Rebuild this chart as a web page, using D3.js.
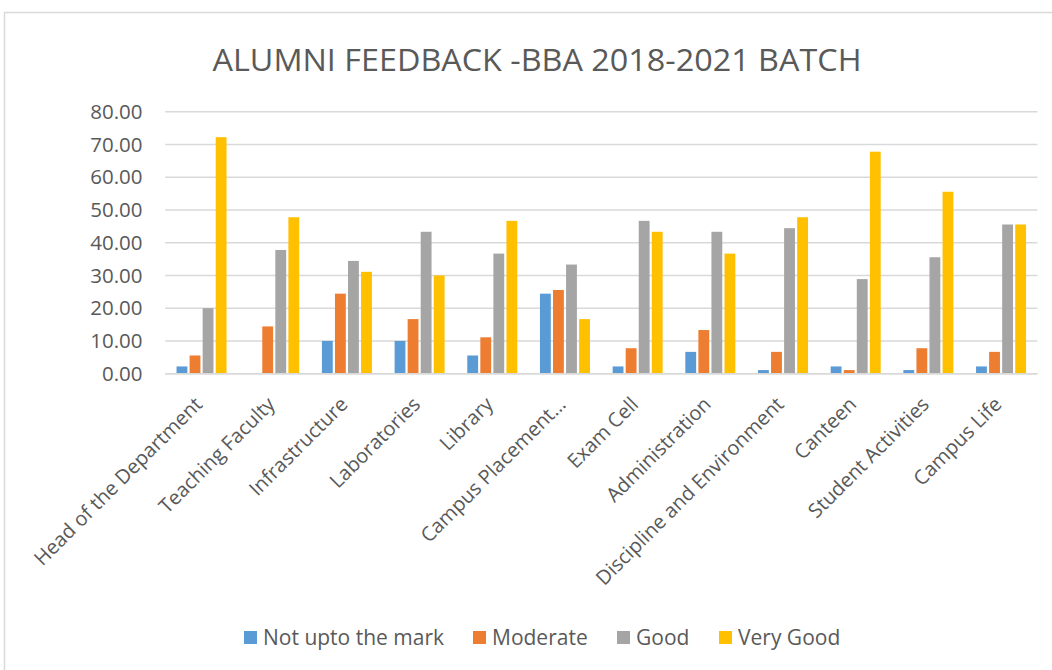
<!DOCTYPE html>
<html><head><meta charset="utf-8">
<script src="https://cdn.jsdelivr.net/npm/d3@7"></script>
<style>body{margin:0;background:#fff}svg{display:block}</style>
</head><body>
<svg id="c" width="1052" height="670"></svg>
<script>
const categories = ["Head of the Department","Teaching Faculty","Infrastructure","Laboratories","Library","Campus Placement…","Exam Cell","Administration","Discipline and Environment","Canteen","Student Activities","Campus Life"];
const seriesNames = ["Not upto the mark","Moderate","Good","Very Good"];
const notUpto  = [2.22, 0, 10.00, 10.00, 5.56, 24.44, 2.22, 6.67, 1.11, 2.22, 1.11, 2.22];
const moderate = [5.56, 14.44, 24.44, 16.67, 11.11, 25.56, 7.78, 13.33, 6.67, 1.11, 7.78, 6.67];
const good     = [20.00, 37.78, 34.44, 43.33, 36.67, 33.33, 46.67, 43.33, 44.44, 28.89, 35.56, 45.56];
const veryGood = [72.22, 47.78, 31.11, 30.00, 46.67, 16.67, 43.33, 36.67, 47.78, 67.78, 55.56, 45.56];
const yTicks = [0,10,20,30,40,50,60,70,80];
const colors = ["#5b9bd5","#ed7d31","#a5a5a5","#ffc000"];
const series = [notUpto, moderate, good, veryGood];

const svg = d3.select("#c");
const txt = "#595959";
svg.append("rect").attr("x",4.5).attr("y",12.5).attr("width",1070).attr("height",680)
  .attr("fill","#fff").attr("stroke","#d9d9d9").attr("stroke-width",1.5);

svg.append("text").attr("x",537).attr("y",71).attr("text-anchor","middle")
  .attr("font-family","'Liberation Sans Narrow','Open Sans',sans-serif").attr("font-size",31)
  .attr("fill",txt).attr("textLength",649).attr("lengthAdjust","spacingAndGlyphs")
  .text("ALUMNI FEEDBACK -BBA 2018-2021 BATCH");

const x0 = d3.scaleBand().domain(categories).range([165.2,1037.4]).paddingInner(0.312).paddingOuter(0.156);
const x1 = d3.scaleBand().domain(seriesNames).range([0,x0.bandwidth()]).paddingInner(0.17).paddingOuter(0);
const y = d3.scaleLinear().domain([0,80]).range([373.7,111.7]);

const grid = svg.append("g");
grid.selectAll("line").data(yTicks).join("line")
  .attr("x1",165.2).attr("x2",1037.4).attr("y1",d=>y(d)).attr("y2",d=>y(d))
  .attr("stroke","#d9d9d9").attr("stroke-width",1.5);

const yAxis = d3.axisLeft(y).tickValues(yTicks).tickFormat(d3.format(".2f")).tickSize(0).tickPadding(0);
const ya = svg.append("g").attr("transform","translate(142.5,0)").call(yAxis);
ya.select(".domain").remove();
ya.selectAll("text").attr("font-family","'Open Sans',sans-serif").attr("font-size",20.5).attr("fill",txt);

const groups = svg.append("g").selectAll("g").data(categories).join("g")
  .attr("transform",d=>`translate(${x0(d)},0)`);
groups.selectAll("rect").data((d,i)=>seriesNames.map((s,j)=>({s,v:series[j][i],c:colors[j]}))).join("rect")
  .attr("x",d=>x1(d.s)).attr("width",x1.bandwidth())
  .attr("y",d=>y(d.v)).attr("height",d=>y(0)-y(d.v)).attr("fill",d=>d.c);

svg.append("line").attr("x1",165.2).attr("x2",1037.4).attr("y1",y(0)).attr("y2",y(0))
  .attr("stroke","#d9d9d9").attr("stroke-width",1.5);

const xAxis = d3.axisBottom(x0).tickSize(0).tickPadding(0);
const xa = svg.append("g").attr("transform",`translate(0,${y(0)})`).call(xAxis);
xa.select(".domain").remove();
xa.selectAll("text").attr("font-family","'Open Sans',sans-serif").attr("font-size",20).attr("fill",txt)
  .attr("text-anchor","end").attr("dy","0.35em").attr("y",0)
  .attr("transform","translate(-3,27) rotate(-45)");

const legendX = [244, 473, 617, 719];
const lg = svg.append("g").selectAll("g").data(seriesNames).join("g")
  .attr("transform",(d,i)=>`translate(${legendX[i]},0)`);
lg.append("rect").attr("x",0).attr("y",631).attr("width",13).attr("height",13).attr("fill",(d,i)=>colors[i]);
lg.append("text").attr("x",19).attr("y",645).attr("font-family","'Open Sans',sans-serif").attr("font-size",21)
  .attr("fill",txt).text(d=>d);
</script>
</body></html>
